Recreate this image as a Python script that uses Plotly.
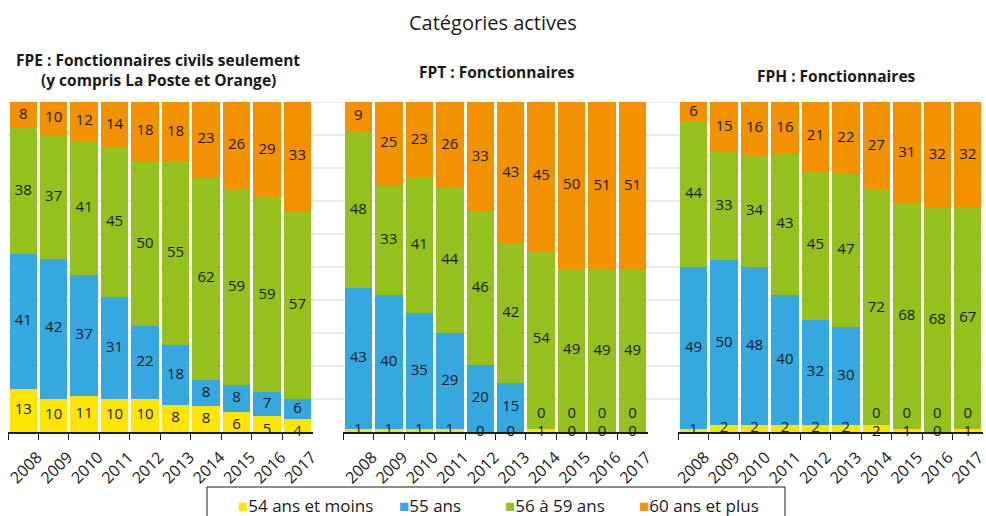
"""Catégories actives: age split of retiring civil servants, three stacked
100% bar panels (FPE / FPT / FPH), one shared look."""

import plotly.graph_objects as go
from plotly.subplots import make_subplots

YEARS = [str(y) for y in range(2008, 2018)]
SERIES = ["54 ans et moins", "55 ans", "56 à 59 ans", "60 ans et plus"]

# FPE : Fonctionnaires civils seulement (y compris La Poste et Orange)
FPE_54 = [13, 10, 11, 10, 10, 8, 8, 6, 5, 4]
FPE_55 = [41, 42, 37, 31, 22, 18, 8, 8, 7, 6]
FPE_56_59 = [38, 37, 41, 45, 50, 55, 62, 59, 59, 57]
FPE_60 = [8, 10, 12, 14, 18, 18, 23, 26, 29, 33]

# FPT : Fonctionnaires
FPT_54 = [1, 1, 1, 1, 0, 0, 1, 0, 0, 0]
FPT_55 = [43, 40, 35, 29, 20, 15, 0, 0, 0, 0]
FPT_56_59 = [48, 33, 41, 44, 46, 42, 54, 49, 49, 49]
FPT_60 = [9, 25, 23, 26, 33, 43, 45, 50, 51, 51]

# FPH : Fonctionnaires
FPH_54 = [1, 2, 2, 2, 2, 2, 2, 1, 0, 1]
FPH_55 = [49, 50, 48, 40, 32, 30, 0, 0, 0, 0]
FPH_56_59 = [44, 33, 34, 43, 45, 47, 72, 68, 68, 67]
FPH_60 = [6, 15, 16, 16, 21, 22, 27, 31, 32, 32]

PANELS = [
    (FPE_54, FPE_55, FPE_56_59, FPE_60),
    (FPT_54, FPT_55, FPT_56_59, FPT_60),
    (FPH_54, FPH_55, FPH_56_59, FPH_60),
]

YELLOW = "#ffe500"
BLUE = "#35a8e0"
GREEN = "#95c11f"
ORANGE = "#f39200"
COLORS = [YELLOW, BLUE, GREEN, ORANGE]
GRID = "#d6d6d6"
INK = "#1a1a1a"

FONT = "Open Sans, Noto Sans, sans-serif"

W, H = 986, 516
L, R, T, B = 8, 3, 102, 84


def px_y(py):
    """pixel row -> paper y"""
    return (H - B - py) / (H - T - B)


def px_x(px):
    return (px - L) / (W - L - R)


def label_positions(series):
    """Centre of each stacked segment (normalised to 100). The two thin bottom
    segments get pulled apart so their labels stay readable."""
    out = [[] for _ in series]
    for i in range(len(YEARS)):
        vals = [s[i] for s in series]
        total = sum(vals)
        mids, base = [], 0.0
        for v in vals:
            share = v / total * 100
            mids.append(base + share / 2)
            base += share
        mids[1] = max(mids[1], 5.5)
        mids[0] = max(min(mids[0], mids[1] - 8), 0.05)
        for k, m in enumerate(mids):
            out[k].append(m)
    return out


fig = make_subplots(rows=1, cols=3, horizontal_spacing=1 / 32)

for col, series in enumerate(PANELS, start=1):
    for k, (name, vals) in enumerate(zip(SERIES, series)):
        fig.add_trace(go.Bar(
            x=YEARS, y=vals, name=name, showlegend=False,
            marker=dict(color=COLORS[k], line_width=0),
            hovertemplate="%{x} : %{y} %<extra>" + name + "</extra>",
        ), row=1, col=col)
    pos = label_positions(series)
    for k, vals in enumerate(series):
        fig.add_trace(go.Scatter(
            x=YEARS, y=pos[k], mode="text", text=[str(v) for v in vals],
            textfont=dict(family=FONT, size=15, color=INK),
            showlegend=False, hoverinfo="skip", cliponaxis=False,
        ), row=1, col=col)

# horizontal grid runs across the whole width, gaps included
for v in range(10, 101, 10):
    fig.add_shape(type="line", xref="paper", x0=0, x1=1, yref="y", y0=v, y1=v,
                  line=dict(color=GRID, width=1), layer="below")

fig.update_layout(
    width=W, height=H,
    barmode="stack", barnorm="percent", bargap=0.1,
    paper_bgcolor="white", plot_bgcolor="white",
    font=dict(family=FONT, color=INK, size=14),
    margin=dict(l=L, r=R, t=T, b=B, autoexpand=False),
    showlegend=False,
)
fig.update_xaxes(type="category", range=[-0.5, 9.5], showgrid=False,
                 showline=True, linecolor=INK, linewidth=1.5,
                 ticks="outside", tickson="boundaries", ticklen=6,
                 tickcolor=INK, tickangle=-45, ticklabelshift=14,
                 ticklabelstandoff=8, automargin=False,
                 tickfont=dict(size=16, color=INK))
# last panel sits against the right edge: keep its 2017 inside the page
fig.update_xaxes(ticklabelshift=11, row=1, col=3)
fig.update_yaxes(range=[0, 100], showgrid=False, showline=False,
                 showticklabels=False, zeroline=False, fixedrange=True,
                 automargin=False)

# legend drawn by hand: framed box that runs off the bottom edge
fig.add_shape(type="rect", xref="paper", yref="paper",
              x0=px_x(207), x1=px_x(785), y0=px_y(522), y1=px_y(487),
              line=dict(color=INK, width=1), fillcolor="rgba(0,0,0,0)")
LEGEND_X = [236, 397, 503, 637]
for name, color, x in zip(SERIES, COLORS, LEGEND_X):
    fig.add_annotation(
        text=f"<span style='color:{color}'>■</span>{name}", showarrow=False,
        xref="paper", yref="paper", x=px_x(x), y=px_y(505),
        xanchor="left", yanchor="middle",
        font=dict(family=FONT, size=17, color=INK),
    )

titles = [
    ("Catégories actives", 493, 22, 20, False),
    ("FPE : Fonctionnaires civils seulement", 158, 60, 15.5, True),
    ("(y compris La Poste et Orange)", 158, 80, 15.5, True),
    ("FPT : Fonctionnaires", 497, 72, 15.5, True),
    ("FPH : Fonctionnaires", 836, 76, 15.5, True),
]
for text, x, y, size, bold in titles:
    fig.add_annotation(
        text=f"<b>{text}</b>" if bold else text, showarrow=False,
        xref="paper", yref="paper", x=px_x(x), y=px_y(y),
        xanchor="center", yanchor="middle",
        font=dict(family=FONT, size=size, color=INK),
    )

# the page's default body margin would push the fixed-size figure off-screen
fig.write_html("out.html", config={"displayModeBar": False},
               post_script="document.body.style.margin='0';")
